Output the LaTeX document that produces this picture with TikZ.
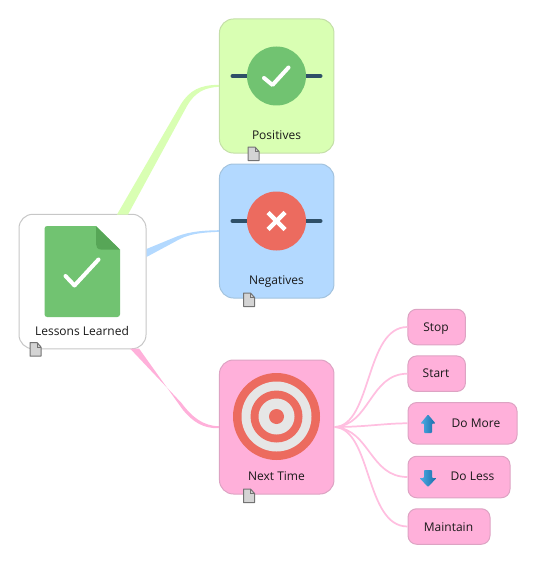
\documentclass[tikz,border=0pt]{standalone}
\usepackage{fontspec}
\setmainfont{Open Sans}
\definecolor{grn}{HTML}{D9FFB3}
\definecolor{grnb}{HTML}{C4DFA8}
\definecolor{blu}{HTML}{B3D9FF}
\definecolor{blub}{HTML}{A3C3DE}
\definecolor{pnk}{HTML}{FFB0DA}
\definecolor{pnkb}{HTML}{DDA3C3}
\definecolor{pnkl}{HTML}{FFBFE0}
\definecolor{iconG}{HTML}{71C371}
\definecolor{iconD}{HTML}{57A657}
\definecolor{iconR}{HTML}{EC6B5F}
\definecolor{iconL}{HTML}{E6E6E6}
\definecolor{navy}{HTML}{2F5068}
\definecolor{arrowA}{HTML}{4FAEE6}
\definecolor{arrowB}{HTML}{186AA8}
\tikzset{
  x=0.75pt,y=-0.75pt,
  bigbox/.style={draw,line width=0.75pt,rounded corners=10.5pt,inner sep=0pt,minimum width=114.5*0.75pt,minimum height=134*0.75pt},
  leafbox/.style={draw=pnkb,fill=pnk,line width=0.75pt,rounded corners=6.5pt,inner sep=0pt},
  lbl/.style={font=\fontsize{9}{11}\selectfont,text=black!90,inner sep=0pt,anchor=base},
  leafline/.style={draw=pnkl,line width=1.3pt},
  tick/.style={draw=white,line width=3pt,line cap=round,line join=round},
  noteicon/.style={draw=black!55,fill=black!17,line width=0.75pt,line join=round},
}
\newcommand{\noteat}[2]{%
  \begin{scope}[shift={(#1,#2)}]
    \path[noteicon] (0,0) -- (7,0) -- (11,4.5) -- (11,13.5) -- (0,13.5) -- cycle;
    \draw[black!55,line width=0.6pt] (7,0) -- (7,4.5) -- (11,4.5);
  \end{scope}}
\begin{document}
\begin{tikzpicture}
\useasboundingbox (0,0) rectangle (535,563);
% tapered connectors, wide at the root and thin at the child
\node[bigbox,draw=black!22,fill=white,minimum width=127*0.75pt,minimum height=134.5*0.75pt] (root) at (82.5,281.5) {};
\node[bigbox,draw=grnb,fill=grn] (pos) at (276.7,86) {};
\node[bigbox,draw=blub,fill=blu] (neg) at (276.7,231) {};
\node[bigbox,draw=pnkb,fill=pnk] (next) at (276.7,427) {};
\node[leafbox,minimum width=57.5*0.75pt,minimum height=35.5*0.75pt] (stop) at (436.7,327) {};
\node[leafbox,minimum width=57.5*0.75pt,minimum height=35.5*0.75pt] (start) at (436.7,373.7) {};
\node[leafbox,minimum width=109*0.75pt,minimum height=41.5*0.75pt] (more) at (462.5,423.3) {};
\node[leafbox,minimum width=102*0.75pt,minimum height=41.5*0.75pt] (less) at (459,477) {};
\node[leafbox,minimum width=82*0.75pt,minimum height=35.5*0.75pt] (maint) at (449,526.5) {};
\fill[grn] (117,214.5) -- (181,104) .. controls (190,90) and (200,85) .. ([yshift=0.9pt]pos.west)
  -- ([yshift=-0.6pt]pos.west) .. controls (205,87.5) and (195,92) .. (187,106) -- (128,214.5) -- cycle;
\fill[blu] (146.5,249) -- (178,236) .. controls (192,231) and (205,230.5) .. ([yshift=0.6pt]neg.west)
  -- ([yshift=-0.6pt]neg.west) .. controls (205,232.5) and (192,233) .. (180,239) -- (146.5,257) -- cycle;
\fill[pnk] (130,348.5) -- (181.5,403) .. controls (192,417) and (203,426) .. ([yshift=0.6pt]next.west)
  -- ([yshift=-0.8pt]next.west) .. controls (203,429) and (192,421) .. (183,410) -- (139,348.5) -- cycle;
\coordinate (hub) at (335,427);
\draw[leafline] (hub) .. controls (372,425) and (365,327) .. (stop.west);
\draw[leafline] (hub) .. controls (370,425) and (370,373.7) .. (start.west);
\draw[leafline] (hub) .. controls (365,427) and (385,423.3) .. (more.west);
\draw[leafline] (hub) .. controls (370,430) and (370,477) .. (less.west);
\draw[leafline] (hub) .. controls (372,430) and (365,526.5) .. (maint.west);
\draw[leafline] (next.east) -- (hub);
% root icon
\fill[iconG,rounded corners=2pt] (120,250) -- (120,317) -- (44.5,317) -- (44.5,226) [sharp corners] -- (96,226) -- cycle;
\fill[iconD] (96,226.5) -- (120,249.5) -- (101,249.5) .. controls (97.5,249.5) and (96,247) .. (96,244) -- cycle;
\draw[tick] (65.5,276) -- (74.5,285.5) -- (98.5,259.5);
% positives icon
\draw[navy,line width=3pt,line cap=round] (232.5,76) -- (320.5,76);
\fill[iconG] (276.5,76) circle (29.5);
\draw[tick] (264,78) -- (272.5,85) -- (288.5,67.5);
% negatives icon
\draw[navy,line width=3pt,line cap=round] (232.5,221) -- (320.5,221);
\fill[iconR] (276.5,221) circle (29.5);
\draw[tick,line cap=butt,line width=3.4pt] (268,212.5) -- (285,229.5);
\draw[tick,line cap=butt,line width=3.4pt] (285,212.5) -- (268,229.5);
% target icon
\fill[iconR] (276.5,416.5) circle (43.5);
\fill[iconL] (276.5,416.5) circle (35);
\fill[iconR] (276.5,416.5) circle (26);
\fill[iconL] (276.5,416.5) circle (18);
\fill[iconR] (276.5,416.5) circle (7.5);
% labels
\node[lbl] (t0) at (82,335) {Lessons Learned};
\node[lbl] (t1) at (276.5,139.5) {Positives};
\node[lbl] (t2) at (276.5,284.3) {Negatives};
\node[lbl] (t3) at (276.5,480) {Next Time};
\node[lbl] (t4) at (436,331) {Stop};
\node[lbl] (t5) at (436,377.7) {Start};
\node[lbl] (t6) at (476,427) {Do More};
\node[lbl] (t7) at (472.5,480.5) {Do Less};
\node[lbl] (t8) at (448.5,531) {Maintain};
% arrows
\shade[left color=arrowA,right color=arrowB,rounded corners=0.6pt]
  (428,414.5) -- (435.5,423.5) -- (432,423.5) -- (432,433) -- (424,433) -- (424,423.5) -- (420.5,423.5) -- cycle;
\shade[left color=arrowA,right color=arrowB,rounded corners=0.6pt]
  (424,470) -- (432,470) -- (432,478) -- (436.5,478) -- (428,487) -- (419.5,478) -- (424,478) -- cycle;
% note marks
\noteat{30}{342.5}
\noteat{248}{147}
\noteat{243.5}{293}
\noteat{243.5}{489}
\end{tikzpicture}
\end{document}
